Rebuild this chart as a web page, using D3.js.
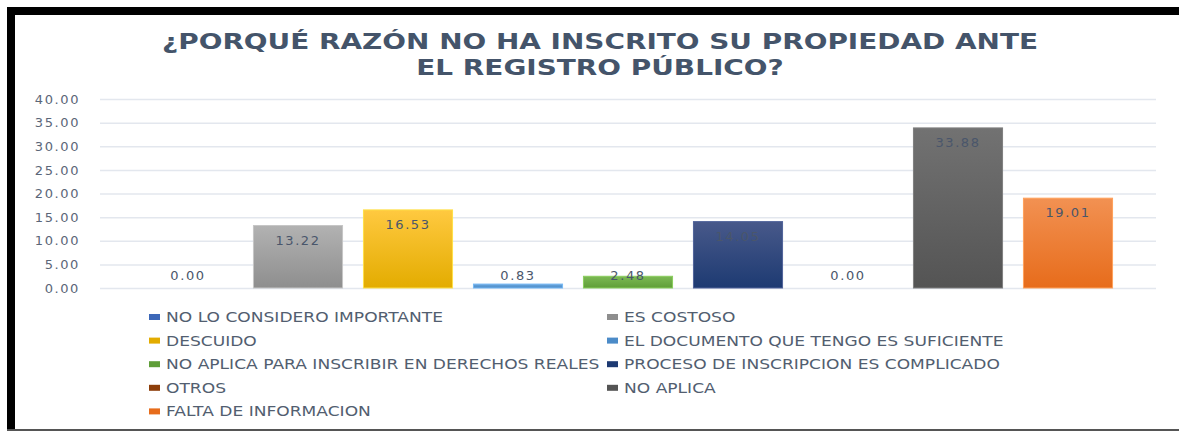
<!DOCTYPE html>
<html>
<head>
<meta charset="utf-8">
<script src="https://cdn.jsdelivr.net/npm/d3@7"></script>
<style>
    body { margin: 0; background: #fff; }
    svg { display: block; }
</style>
</head>
<body>
<div id="chart"></div>
<script>
// chart data
var categories = [
    "NO LO CONSIDERO IMPORTANTE",
    "ES COSTOSO",
    "DESCUIDO",
    "EL DOCUMENTO QUE TENGO ES SUFICIENTE",
    "NO APLICA PARA INSCRIBIR EN DERECHOS REALES",
    "PROCESO DE INSCRIPCION ES COMPLICADO",
    "OTROS",
    "NO APLICA",
    "FALTA DE INFORMACION"
];
var values = [0.00, 13.22, 16.53, 0.83, 2.48, 14.05, 0.00, 33.88, 19.01];
var yTicks = [0, 5, 10, 15, 20, 25, 30, 35, 40];
var titleLines = ["¿PORQUÉ RAZÓN NO HA INSCRITO SU PROPIEDAD ANTE", "EL REGISTRO PÚBLICO?"];

// bar colours: [top, bottom] of the gradient
var barColors = [
    ["#5a85cf", "#3d68b8"],
    ["#b2b2b2", "#8e8e8e"],
    ["#ffc940", "#e3ac00"],
    ["#6aa6dc", "#4b8bc8"],
    ["#7cb954", "#5f9e38"],
    ["#48598a", "#1d3a72"],
    ["#a9541a", "#8d3e0a"],
    ["#727272", "#545454"],
    ["#f29152", "#e76c1b"]
];

function init() {
    var w = 1179;
    var h = 431;

    var svg = d3.select("#chart")
        .append("svg")
        .attr("width", w)
        .attr("height", h);

    var defs = svg.append("defs");

    // vertical gradient for each bar
    barColors.forEach(function (c, i) {
        var g = defs.append("linearGradient")
            .attr("id", "grad" + i)
            .attr("x1", 0).attr("y1", 0)
            .attr("x2", 0).attr("y2", 1);
        g.append("stop").attr("offset", "0%").attr("stop-color", c[0]);
        g.append("stop").attr("offset", "100%").attr("stop-color", c[1]);
    });

    // frame around the picture
    svg.append("rect").attr("x", 7).attr("y", 7).attr("width", w - 7).attr("height", 8).attr("fill", "#000");
    svg.append("rect").attr("x", 7).attr("y", 7).attr("width", 8).attr("height", h - 7).attr("fill", "#000");
    svg.append("line")
        .attr("x1", 7).attr("x2", w)
        .attr("y1", 430).attr("y2", 430)
        .attr("stroke", "#555").attr("stroke-width", 2);

    // scales
    var gridLeft = 100, gridRight = 1156;
    var xScale = d3.scaleBand()
        .domain(categories)
        .range([133, 1123])
        .paddingInner(0.19)
        .paddingOuter(0.095);

    var yScale = d3.scaleLinear()
        .domain([0, 40])
        .range([288, 99]);

    // gridlines
    var gridlines = d3.axisLeft()
        .scale(yScale)
        .tickValues(yTicks)
        .tickSize(-(gridRight - gridLeft))
        .tickFormat("");

    var grid = svg.append("g")
        .attr("transform", "translate(" + gridLeft + ",0)")
        .call(gridlines);
    grid.select(".domain").remove();
    grid.selectAll("line").attr("stroke", "#e3e7ee").attr("stroke-width", 1.5);

    // y axis labels
    var yAxis = d3.axisLeft()
        .scale(yScale)
        .tickValues(yTicks)
        .tickSize(0)
        .tickPadding(0)
        .tickFormat(d3.format(".2f"));

    var yg = svg.append("g")
        .attr("transform", "translate(80,0)")
        .call(yAxis);
    yg.select(".domain").remove();
    yg.selectAll("text")
        .style("font-family", "DejaVu Sans")
        .style("font-size", "13px")
        .style("letter-spacing", "1.6px")
        .attr("fill", "#5b6678");

    // bars
    svg.selectAll(".bar")
        .data(values)
        .enter()
        .append("rect")
        .attr("class", "bar")
        .attr("x", (d, i) => xScale(categories[i]))
        .attr("y", d => yScale(d))
        .attr("width", xScale.bandwidth())
        .attr("height", d => yScale(0) - yScale(d))
        .attr("fill", (d, i) => "url(#grad" + i + ")")
        .attr("stroke", (d, i) => d3.color(barColors[i][0]).brighter(0.3))
        .attr("stroke-width", d => d > 0 ? 1 : 0);

    // data labels
    svg.selectAll(".label")
        .data(values)
        .enter()
        .append("text")
        .attr("class", "label")
        .attr("x", (d, i) => xScale(categories[i]) + xScale.bandwidth() / 2)
        .attr("y", d => Math.min(yScale(d) + 14, yScale(0) - 13) + 5)
        .attr("text-anchor", "middle")
        .style("font-family", "DejaVu Sans")
        .style("font-size", "13px")
        .style("letter-spacing", "1.6px")
        .attr("fill", "#4a566b")
        .text(d => d3.format(".2f")(d));

    // title (stretched horizontally like the original)
    svg.selectAll(".title")
        .data(titleLines)
        .enter()
        .append("text")
        .attr("class", "title")
        .attr("transform", (d, i) => "translate(600," + (49 + i * 26) + ") scale(1.33,1)")
        .attr("text-anchor", "middle")
        .style("font-family", "DejaVu Sans")
        .style("font-weight", "bold")
        .style("font-size", "21px")
        .attr("fill", "#44546a")
        .text(d => d);

    // legend, two columns
    var legend = svg.selectAll(".legend")
        .data(categories)
        .enter()
        .append("g")
        .attr("class", "legend")
        .attr("transform", (d, i) => "translate(" + (i % 2 === 0 ? 149 : 607) + "," + (317 + Math.floor(i / 2) * 23.6) + ")");

    legend.append("rect")
        .attr("x", 0)
        .attr("y", -3)
        .attr("width", 11)
        .attr("height", 6)
        .attr("fill", (d, i) => barColors[i][1]);

    legend.append("text")
        .attr("transform", "translate(17,5) scale(1.22,1)")
        .style("font-family", "DejaVu Sans")
        .style("font-size", "14px")
        .attr("fill", "#525e70")
        .text(d => d);
}

window.onload = init;
</script>
</body>
</html>
